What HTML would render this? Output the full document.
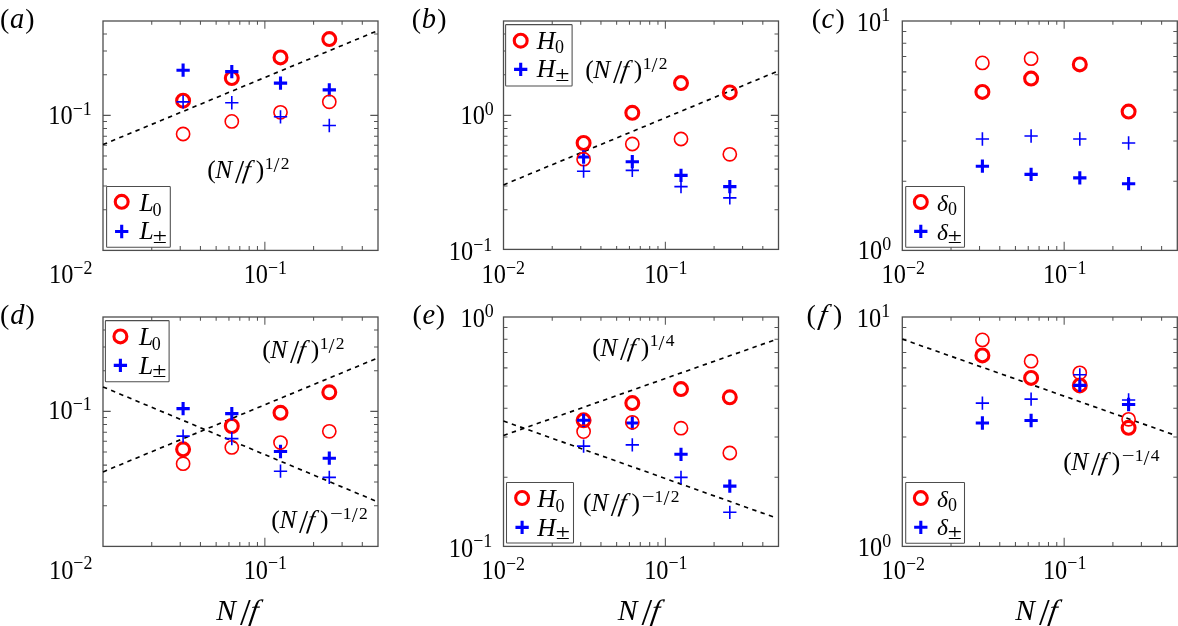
<!DOCTYPE html>
<html lang="en"><head><meta charset="utf-8"><title>Figure</title>
<style>html,body{margin:0;padding:0;background:#fff;overflow:hidden}svg{display:block}</style></head>
<body>
<svg width="1178" height="626" viewBox="0 0 1178 626" font-family="'Liberation Serif', 'DejaVu Serif', serif">
<rect width="1178" height="626" fill="#fff"/>
<path d="M151.73 21v3.8M151.73 250.4V246M180.23 21v3.8M180.23 250.4V246M200.45 21v3.8M200.45 250.4V246M216.14 21v3.8M216.14 250.4V246M228.95 21v3.8M228.95 250.4V246M239.79 21v3.8M239.79 250.4V246M249.18 21v3.8M249.18 250.4V246M257.46 21v3.8M257.46 250.4V246M264.86 21v7.8M264.86 250.4V241.8M313.59 21v3.8M313.59 250.4V246M342.09 21v3.8M342.09 250.4V246M362.31 21v3.8M362.31 250.4V246M103 209.75h4M378 209.75h-4M103 185.98h4M378 185.98h-4M103 169.11h4M378 169.11h-4M103 156.02h4M378 156.02h-4M103 145.33h4M378 145.33h-4M103 136.29h4M378 136.29h-4M103 128.46h4M378 128.46h-4M103 121.56h4M378 121.56h-4M103 115.38h7.7M378 115.38h-7.7M103 74.73h4M378 74.73h-4M103 50.95h4M378 50.95h-4M103 34.09h4M378 34.09h-4" stroke="#555" stroke-width="1.05" fill="none"/>
<rect x="103" y="21" width="275" height="229.4" fill="none" stroke="#4d4d4d" stroke-width="1.3"/>
<line x1="103" y1="144.6" x2="376" y2="31.39" stroke="#000" stroke-width="1.65" stroke-dasharray="4.4 4.4"/>
<circle cx="183.1" cy="100.7" r="6.45" fill="none" stroke="#ff0000" stroke-width="3.1"/>
<circle cx="231.8" cy="78.1" r="6.45" fill="none" stroke="#ff0000" stroke-width="3.1"/>
<circle cx="280.5" cy="57.4" r="6.45" fill="none" stroke="#ff0000" stroke-width="3.1"/>
<circle cx="329.3" cy="39.1" r="6.45" fill="none" stroke="#ff0000" stroke-width="3.1"/>
<path d="M176.45 70.2h13.3M183.1 63.55v13.3" fill="none" stroke="#0000ff" stroke-width="3.1"/>
<path d="M225.15 71.65h13.3M231.8 65v13.3" fill="none" stroke="#0000ff" stroke-width="3.1"/>
<path d="M273.85 83.1h13.3M280.5 76.45v13.3" fill="none" stroke="#0000ff" stroke-width="3.1"/>
<path d="M322.65 89.9h13.3M329.3 83.25v13.3" fill="none" stroke="#0000ff" stroke-width="3.1"/>
<circle cx="183.1" cy="134" r="6.6" fill="none" stroke="#ff0000" stroke-width="1.6"/>
<circle cx="231.8" cy="121.4" r="6.6" fill="none" stroke="#ff0000" stroke-width="1.6"/>
<circle cx="280.5" cy="112.3" r="6.6" fill="none" stroke="#ff0000" stroke-width="1.6"/>
<circle cx="329.3" cy="101.8" r="6.6" fill="none" stroke="#ff0000" stroke-width="1.6"/>
<path d="M176.45 101.9h13.3M183.1 95.25v13.3" fill="none" stroke="#0000ff" stroke-width="1.6"/>
<path d="M225.15 102.75h13.3M231.8 96.1v13.3" fill="none" stroke="#0000ff" stroke-width="1.6"/>
<path d="M273.85 116.8h13.3M280.5 110.15v13.3" fill="none" stroke="#0000ff" stroke-width="1.6"/>
<path d="M322.65 125.5h13.3M329.3 118.85v13.3" fill="none" stroke="#0000ff" stroke-width="1.6"/>
<rect x="106.6" y="186.5" width="63.7" height="60.7" rx="0.7" fill="#fff" stroke="#4d4d4d" stroke-width="1.05"/>
<circle cx="121.7" cy="201.8" r="6.45" fill="none" stroke="#ff0000" stroke-width="3.1"/>
<path d="M115.05 231.5h13.3M121.7 224.85v13.3" fill="none" stroke="#0000ff" stroke-width="3.1"/>
<g fill="#000"><text><tspan x="139.5" y="211.3" font-size="25.5" font-style="italic">L</tspan><tspan x="152.45" y="215.5" font-size="18">0</tspan></text></g>
<g fill="#000"><text><tspan x="139.5" y="239.3" font-size="25.5" font-style="italic">L</tspan></text><text transform="translate(152.83 242.9) scale(1.29 1)" font-size="20">±</text></g>
<g fill="#000"><text><tspan x="207.15" y="177.9" font-size="25.5">(</tspan><tspan x="215.35" y="177.9" font-size="25.5" font-style="italic">N</tspan><tspan x="234.92" y="182.6" font-size="33">/</tspan></text><text transform="translate(242.29 177.9) skewX(-9)" font-size="25.5" font-style="italic">f</text><text><tspan x="255.8" y="177.9" font-size="25.5">)</tspan><tspan x="264.63" y="168.7" font-size="17.5">1</tspan><tspan x="273.61" y="172.3" font-size="21.5">/</tspan><tspan x="280.87" y="168.7" font-size="17.5">2</tspan></text></g>
<text transform="translate(91.8 123.9) scale(0.92 1)" text-anchor="end" font-size="26.5">10<tspan dy="-9.4" font-size="19.5">−1</tspan></text>
<text transform="translate(92.4 283) scale(0.92 1)" text-anchor="end" font-size="26.5">10<tspan dy="-9.4" font-size="19.5">−2</tspan></text>
<text transform="translate(265.36 283) scale(0.92 1)" text-anchor="middle" font-size="26.5">10<tspan dy="-9.4" font-size="19.5">−1</tspan></text>
<g fill="#000"><text><tspan x="0.11" y="27.8" font-size="27.8">(</tspan><tspan x="10.09" y="27.8" font-size="28.5" font-style="italic">a</tspan><tspan x="25.23" y="27.8" font-size="27.8">)</tspan></text></g>
<path d="M552.23 21v3.8M552.23 249.4V246M580.73 21v3.8M580.73 249.4V246M600.95 21v3.8M600.95 249.4V246M616.64 21v3.8M616.64 249.4V246M629.45 21v3.8M629.45 249.4V246M640.29 21v3.8M640.29 249.4V246M649.68 21v3.8M649.68 249.4V246M657.96 21v3.8M657.96 249.4V246M665.36 21v7.8M665.36 249.4V241.8M714.09 21v3.8M714.09 249.4V246M742.59 21v3.8M742.59 249.4V246M762.81 21v3.8M762.81 249.4V246M503.5 209.75h4M778.5 209.75h-4M503.5 185.98h4M778.5 185.98h-4M503.5 169.11h4M778.5 169.11h-4M503.5 156.02h4M778.5 156.02h-4M503.5 145.33h4M778.5 145.33h-4M503.5 136.29h4M778.5 136.29h-4M503.5 128.46h4M778.5 128.46h-4M503.5 121.56h4M778.5 121.56h-4M503.5 115.38h7.7M778.5 115.38h-7.7M503.5 74.73h4M778.5 74.73h-4M503.5 50.95h4M778.5 50.95h-4M503.5 34.09h4M778.5 34.09h-4" stroke="#555" stroke-width="1.05" fill="none"/>
<rect x="503.5" y="21" width="275" height="228.4" fill="none" stroke="#4d4d4d" stroke-width="1.3"/>
<line x1="503.5" y1="184.9" x2="776.5" y2="71.69" stroke="#000" stroke-width="1.65" stroke-dasharray="4.4 4.4"/>
<circle cx="583.6" cy="143" r="6.45" fill="none" stroke="#ff0000" stroke-width="3.1"/>
<circle cx="632.3" cy="112.8" r="6.45" fill="none" stroke="#ff0000" stroke-width="3.1"/>
<circle cx="681" cy="83.1" r="6.45" fill="none" stroke="#ff0000" stroke-width="3.1"/>
<circle cx="729.8" cy="92.4" r="6.45" fill="none" stroke="#ff0000" stroke-width="3.1"/>
<path d="M576.95 157h13.3M583.6 150.35v13.3" fill="none" stroke="#0000ff" stroke-width="3.1"/>
<path d="M625.65 161.7h13.3M632.3 155.05v13.3" fill="none" stroke="#0000ff" stroke-width="3.1"/>
<path d="M674.35 175.4h13.3M681 168.75v13.3" fill="none" stroke="#0000ff" stroke-width="3.1"/>
<path d="M723.15 186.6h13.3M729.8 179.95v13.3" fill="none" stroke="#0000ff" stroke-width="3.1"/>
<circle cx="583.6" cy="159.2" r="6.6" fill="none" stroke="#ff0000" stroke-width="1.6"/>
<circle cx="632.3" cy="144" r="6.6" fill="none" stroke="#ff0000" stroke-width="1.6"/>
<circle cx="681" cy="139" r="6.6" fill="none" stroke="#ff0000" stroke-width="1.6"/>
<circle cx="729.8" cy="154.3" r="6.6" fill="none" stroke="#ff0000" stroke-width="1.6"/>
<path d="M576.95 171.2h13.3M583.6 164.55v13.3" fill="none" stroke="#0000ff" stroke-width="1.6"/>
<path d="M625.65 170.4h13.3M632.3 163.75v13.3" fill="none" stroke="#0000ff" stroke-width="1.6"/>
<path d="M674.35 186.6h13.3M681 179.95v13.3" fill="none" stroke="#0000ff" stroke-width="1.6"/>
<path d="M723.15 197.9h13.3M729.8 191.25v13.3" fill="none" stroke="#0000ff" stroke-width="1.6"/>
<rect x="505.6" y="24.6" width="66.5" height="61.4" rx="0.7" fill="#fff" stroke="#4d4d4d" stroke-width="1.05"/>
<circle cx="520.7" cy="40.7" r="6.45" fill="none" stroke="#ff0000" stroke-width="3.1"/>
<path d="M514.05 69.4h13.3M520.7 62.75v13.3" fill="none" stroke="#0000ff" stroke-width="3.1"/>
<g fill="#000"><text><tspan x="536.87" y="49.2" font-size="25.5" font-style="italic">H</tspan><tspan x="555.05" y="53.4" font-size="18">0</tspan></text></g>
<g fill="#000"><text><tspan x="536.87" y="77.4" font-size="25.5" font-style="italic">H</tspan></text><text transform="translate(555.13 81) scale(1.29 1)" font-size="20">±</text></g>
<g fill="#000"><text><tspan x="585.15" y="77.9" font-size="25.5">(</tspan><tspan x="593.35" y="77.9" font-size="25.5" font-style="italic">N</tspan><tspan x="612.92" y="82.6" font-size="33">/</tspan></text><text transform="translate(620.29 77.9) skewX(-9)" font-size="25.5" font-style="italic">f</text><text><tspan x="633.8" y="77.9" font-size="25.5">)</tspan><tspan x="642.63" y="68.7" font-size="17.5">1</tspan><tspan x="651.61" y="72.3" font-size="21.5">/</tspan><tspan x="658.87" y="68.7" font-size="17.5">2</tspan></text></g>
<text transform="translate(493.8 123.9) scale(0.92 1)" text-anchor="end" font-size="26.5">10<tspan dy="-9.4" font-size="19.5">0</tspan></text>
<text transform="translate(492.3 259.9) scale(0.92 1)" text-anchor="end" font-size="26.5">10<tspan dy="-9.4" font-size="19.5">−1</tspan></text>
<text transform="translate(503.3 283) scale(0.92 1)" text-anchor="middle" font-size="26.5">10<tspan dy="-9.4" font-size="19.5">−2</tspan></text>
<text transform="translate(665.86 283) scale(0.92 1)" text-anchor="middle" font-size="26.5">10<tspan dy="-9.4" font-size="19.5">−1</tspan></text>
<g fill="#000"><text><tspan x="411.71" y="27.8" font-size="27.8">(</tspan><tspan x="421.78" y="27.8" font-size="28.5" font-style="italic">b</tspan><tspan x="437.23" y="27.8" font-size="27.8">)</tspan></text></g>
<path d="M951.03 21v3.8M951.03 250.4V246M979.53 21v3.8M979.53 250.4V246M999.75 21v3.8M999.75 250.4V246M1015.44 21v3.8M1015.44 250.4V246M1028.25 21v3.8M1028.25 250.4V246M1039.09 21v3.8M1039.09 250.4V246M1048.48 21v3.8M1048.48 250.4V246M1056.76 21v3.8M1056.76 250.4V246M1064.16 21v7.8M1064.16 250.4V241.8M1112.89 21v3.8M1112.89 250.4V246M1141.39 21v3.8M1141.39 250.4V246M1161.61 21v3.8M1161.61 250.4V246M902.3 181.34h4M1177.3 181.34h-4M902.3 140.95h4M1177.3 140.95h-4M902.3 112.29h4M1177.3 112.29h-4M902.3 90.06h4M1177.3 90.06h-4M902.3 71.89h4M1177.3 71.89h-4M902.3 56.53h4M1177.3 56.53h-4M902.3 43.23h4M1177.3 43.23h-4M902.3 31.5h4M1177.3 31.5h-4" stroke="#555" stroke-width="1.05" fill="none"/>
<rect x="902.3" y="21" width="275" height="229.4" fill="none" stroke="#4d4d4d" stroke-width="1.3"/>
<circle cx="982.4" cy="91.9" r="6.45" fill="none" stroke="#ff0000" stroke-width="3.1"/>
<circle cx="1031.1" cy="78.6" r="6.45" fill="none" stroke="#ff0000" stroke-width="3.1"/>
<circle cx="1079.8" cy="64.4" r="6.45" fill="none" stroke="#ff0000" stroke-width="3.1"/>
<circle cx="1128.6" cy="111.6" r="6.45" fill="none" stroke="#ff0000" stroke-width="3.1"/>
<path d="M975.75 166.2h13.3M982.4 159.55v13.3" fill="none" stroke="#0000ff" stroke-width="3.1"/>
<path d="M1024.45 174.4h13.3M1031.1 167.75v13.3" fill="none" stroke="#0000ff" stroke-width="3.1"/>
<path d="M1073.15 177.9h13.3M1079.8 171.25v13.3" fill="none" stroke="#0000ff" stroke-width="3.1"/>
<path d="M1121.95 183.7h13.3M1128.6 177.05v13.3" fill="none" stroke="#0000ff" stroke-width="3.1"/>
<circle cx="982.4" cy="62.9" r="6.6" fill="none" stroke="#ff0000" stroke-width="1.6"/>
<circle cx="1031.1" cy="58.7" r="6.6" fill="none" stroke="#ff0000" stroke-width="1.6"/>
<path d="M975.75 139h13.3M982.4 132.35v13.3" fill="none" stroke="#0000ff" stroke-width="1.6"/>
<path d="M1024.45 136h13.3M1031.1 129.35v13.3" fill="none" stroke="#0000ff" stroke-width="1.6"/>
<path d="M1073.15 139h13.3M1079.8 132.35v13.3" fill="none" stroke="#0000ff" stroke-width="1.6"/>
<path d="M1121.95 143h13.3M1128.6 136.35v13.3" fill="none" stroke="#0000ff" stroke-width="1.6"/>
<rect x="905.7" y="186.4" width="58.8" height="60.9" rx="0.7" fill="#fff" stroke="#4d4d4d" stroke-width="1.05"/>
<circle cx="920.8" cy="202" r="6.45" fill="none" stroke="#ff0000" stroke-width="3.1"/>
<path d="M914.15 231.4h13.3M920.8 224.75v13.3" fill="none" stroke="#0000ff" stroke-width="3.1"/>
<g fill="#000"><text><tspan x="937.09" y="211.2" font-size="23.5" font-style="italic">δ</tspan><tspan x="947.9" y="215.4" font-size="18">0</tspan></text></g>
<g fill="#000"><text><tspan x="937.09" y="239.5" font-size="23.5" font-style="italic">δ</tspan></text><text transform="translate(947.68 243.1) scale(1.29 1)" font-size="20">±</text></g>
<text transform="translate(890.1 30.6) scale(0.92 1)" text-anchor="end" font-size="26.5">10<tspan dy="-9.4" font-size="19.5">1</tspan></text>
<text transform="translate(891.2 259.3) scale(0.92 1)" text-anchor="end" font-size="26.5">10<tspan dy="-9.4" font-size="19.5">0</tspan></text>
<text transform="translate(903.3 283) scale(0.92 1)" text-anchor="middle" font-size="26.5">10<tspan dy="-9.4" font-size="19.5">−2</tspan></text>
<text transform="translate(1064.66 283) scale(0.92 1)" text-anchor="middle" font-size="26.5">10<tspan dy="-9.4" font-size="19.5">−1</tspan></text>
<g fill="#000"><text><tspan x="811.71" y="27.8" font-size="27.8">(</tspan><tspan x="821.49" y="27.8" font-size="28.5" font-style="italic">c</tspan><tspan x="835.53" y="27.8" font-size="27.8">)</tspan></text></g>
<path d="M151.73 317v3.8M151.73 546.4V542M180.23 317v3.8M180.23 546.4V542M200.45 317v3.8M200.45 546.4V542M216.14 317v3.8M216.14 546.4V542M228.95 317v3.8M228.95 546.4V542M239.79 317v3.8M239.79 546.4V542M249.18 317v3.8M249.18 546.4V542M257.46 317v3.8M257.46 546.4V542M264.86 317v7.8M264.86 546.4V537.8M313.59 317v3.8M313.59 546.4V542M342.09 317v3.8M342.09 546.4V542M362.31 317v3.8M362.31 546.4V542M103 505.75h4M378 505.75h-4M103 481.98h4M378 481.98h-4M103 465.11h4M378 465.11h-4M103 452.02h4M378 452.02h-4M103 441.33h4M378 441.33h-4M103 432.29h4M378 432.29h-4M103 424.46h4M378 424.46h-4M103 417.56h4M378 417.56h-4M103 411.38h7.7M378 411.38h-7.7M103 370.73h4M378 370.73h-4M103 346.95h4M378 346.95h-4M103 330.09h4M378 330.09h-4" stroke="#555" stroke-width="1.05" fill="none"/>
<rect x="103" y="317" width="275" height="229.4" fill="none" stroke="#4d4d4d" stroke-width="1.3"/>
<line x1="103" y1="471.9" x2="376" y2="358.69" stroke="#000" stroke-width="1.65" stroke-dasharray="4.4 4.4"/>
<line x1="103" y1="386.9" x2="376" y2="501.15" stroke="#000" stroke-width="1.65" stroke-dasharray="4.4 4.4"/>
<circle cx="183.1" cy="449.3" r="6.45" fill="none" stroke="#ff0000" stroke-width="3.1"/>
<circle cx="231.8" cy="426" r="6.45" fill="none" stroke="#ff0000" stroke-width="3.1"/>
<circle cx="280.5" cy="412.8" r="6.45" fill="none" stroke="#ff0000" stroke-width="3.1"/>
<circle cx="329.3" cy="392.3" r="6.45" fill="none" stroke="#ff0000" stroke-width="3.1"/>
<path d="M176.45 408.6h13.3M183.1 401.95v13.3" fill="none" stroke="#0000ff" stroke-width="3.1"/>
<path d="M225.15 413.6h13.3M231.8 406.95v13.3" fill="none" stroke="#0000ff" stroke-width="3.1"/>
<path d="M273.85 451.5h13.3M280.5 444.85v13.3" fill="none" stroke="#0000ff" stroke-width="3.1"/>
<path d="M322.65 458.2h13.3M329.3 451.55v13.3" fill="none" stroke="#0000ff" stroke-width="3.1"/>
<circle cx="183.1" cy="463.7" r="6.6" fill="none" stroke="#ff0000" stroke-width="1.6"/>
<circle cx="231.8" cy="447.4" r="6.6" fill="none" stroke="#ff0000" stroke-width="1.6"/>
<circle cx="280.5" cy="442.6" r="6.6" fill="none" stroke="#ff0000" stroke-width="1.6"/>
<circle cx="329.3" cy="431.3" r="6.6" fill="none" stroke="#ff0000" stroke-width="1.6"/>
<path d="M176.45 436.1h13.3M183.1 429.45v13.3" fill="none" stroke="#0000ff" stroke-width="1.6"/>
<path d="M225.15 438.6h13.3M231.8 431.95v13.3" fill="none" stroke="#0000ff" stroke-width="1.6"/>
<path d="M273.85 471.2h13.3M280.5 464.55v13.3" fill="none" stroke="#0000ff" stroke-width="1.6"/>
<path d="M322.65 477.4h13.3M329.3 470.75v13.3" fill="none" stroke="#0000ff" stroke-width="1.6"/>
<rect x="105.4" y="320.6" width="63.7" height="61.1" rx="0.7" fill="#fff" stroke="#4d4d4d" stroke-width="1.05"/>
<circle cx="120.4" cy="336.4" r="6.45" fill="none" stroke="#ff0000" stroke-width="3.1"/>
<path d="M113.75 365.4h13.3M120.4 358.75v13.3" fill="none" stroke="#0000ff" stroke-width="3.1"/>
<g fill="#000"><text><tspan x="138.9" y="345.4" font-size="25.5" font-style="italic">L</tspan><tspan x="151.85" y="349.6" font-size="18">0</tspan></text></g>
<g fill="#000"><text><tspan x="138.9" y="373.5" font-size="25.5" font-style="italic">L</tspan></text><text transform="translate(152.23 377.1) scale(1.29 1)" font-size="20">±</text></g>
<g fill="#000"><text><tspan x="262.15" y="358.4" font-size="25.5">(</tspan><tspan x="270.35" y="358.4" font-size="25.5" font-style="italic">N</tspan><tspan x="289.92" y="363.1" font-size="33">/</tspan></text><text transform="translate(297.29 358.4) skewX(-9)" font-size="25.5" font-style="italic">f</text><text><tspan x="310.8" y="358.4" font-size="25.5">)</tspan><tspan x="319.63" y="349.2" font-size="17.5">1</tspan><tspan x="328.61" y="352.8" font-size="21.5">/</tspan><tspan x="335.87" y="349.2" font-size="17.5">2</tspan></text></g>
<g fill="#000"><text><tspan x="271.25" y="527.8" font-size="25.5">(</tspan><tspan x="279.45" y="527.8" font-size="25.5" font-style="italic">N</tspan><tspan x="299.02" y="532.5" font-size="33">/</tspan></text><text transform="translate(306.39 527.8) skewX(-9)" font-size="25.5" font-style="italic">f</text><text><tspan x="319.9" y="527.8" font-size="25.5">)</tspan></text><text transform="translate(329.97 518.6) scale(1.3 1)" font-size="17.5">−</text><text><tspan x="342.73" y="518.6" font-size="17.5">1</tspan><tspan x="351.71" y="522.2" font-size="21.5">/</tspan><tspan x="358.97" y="518.6" font-size="17.5">2</tspan></text></g>
<text transform="translate(91.8 419) scale(0.92 1)" text-anchor="end" font-size="26.5">10<tspan dy="-9.4" font-size="19.5">−1</tspan></text>
<text transform="translate(92.4 578.8) scale(0.92 1)" text-anchor="end" font-size="26.5">10<tspan dy="-9.4" font-size="19.5">−2</tspan></text>
<text transform="translate(265.36 578.8) scale(0.92 1)" text-anchor="middle" font-size="26.5">10<tspan dy="-9.4" font-size="19.5">−1</tspan></text>
<g fill="#000"><text><tspan x="0.11" y="323.8" font-size="27.8">(</tspan><tspan x="10.21" y="323.8" font-size="28.5" font-style="italic">d</tspan><tspan x="25.43" y="323.8" font-size="27.8">)</tspan></text></g>
<g fill="#000"><text><tspan x="216.19" y="619.7" font-size="29.5" font-style="italic">N</tspan><tspan x="239.95" y="625.2" font-size="38.5">/</tspan></text><text transform="translate(248.67 619.7) skewX(-9)" font-size="29.5" font-style="italic">f</text></g>
<path d="M552.23 317v3.8M552.23 546.4V542M580.73 317v3.8M580.73 546.4V542M600.95 317v3.8M600.95 546.4V542M616.64 317v3.8M616.64 546.4V542M629.45 317v3.8M629.45 546.4V542M640.29 317v3.8M640.29 546.4V542M649.68 317v3.8M649.68 546.4V542M657.96 317v3.8M657.96 546.4V542M665.36 317v7.8M665.36 546.4V537.8M714.09 317v3.8M714.09 546.4V542M742.59 317v3.8M742.59 546.4V542M762.81 317v3.8M762.81 546.4V542M503.5 477.34h4M778.5 477.34h-4M503.5 436.95h4M778.5 436.95h-4M503.5 408.29h4M778.5 408.29h-4M503.5 386.06h4M778.5 386.06h-4M503.5 367.89h4M778.5 367.89h-4M503.5 352.53h4M778.5 352.53h-4M503.5 339.23h4M778.5 339.23h-4M503.5 327.5h4M778.5 327.5h-4" stroke="#555" stroke-width="1.05" fill="none"/>
<rect x="503.5" y="317" width="275" height="229.4" fill="none" stroke="#4d4d4d" stroke-width="1.3"/>
<line x1="503.5" y1="435.5" x2="776.5" y2="339.32" stroke="#000" stroke-width="1.65" stroke-dasharray="4.4 4.4"/>
<line x1="503.5" y1="421" x2="776.5" y2="518.02" stroke="#000" stroke-width="1.65" stroke-dasharray="4.4 4.4"/>
<circle cx="583.6" cy="420.3" r="6.45" fill="none" stroke="#ff0000" stroke-width="3.1"/>
<circle cx="632.3" cy="403.1" r="6.45" fill="none" stroke="#ff0000" stroke-width="3.1"/>
<circle cx="681" cy="389.1" r="6.45" fill="none" stroke="#ff0000" stroke-width="3.1"/>
<circle cx="729.8" cy="397.3" r="6.45" fill="none" stroke="#ff0000" stroke-width="3.1"/>
<path d="M576.95 420.3h13.3M583.6 413.65v13.3" fill="none" stroke="#0000ff" stroke-width="3.1"/>
<path d="M625.65 423h13.3M632.3 416.35v13.3" fill="none" stroke="#0000ff" stroke-width="3.1"/>
<path d="M674.35 454.3h13.3M681 447.65v13.3" fill="none" stroke="#0000ff" stroke-width="3.1"/>
<path d="M723.15 486.1h13.3M729.8 479.45v13.3" fill="none" stroke="#0000ff" stroke-width="3.1"/>
<circle cx="583.6" cy="431.6" r="6.6" fill="none" stroke="#ff0000" stroke-width="1.6"/>
<circle cx="632.3" cy="422.3" r="6.6" fill="none" stroke="#ff0000" stroke-width="1.6"/>
<circle cx="681" cy="428.2" r="6.6" fill="none" stroke="#ff0000" stroke-width="1.6"/>
<circle cx="729.8" cy="453" r="6.6" fill="none" stroke="#ff0000" stroke-width="1.6"/>
<path d="M576.95 446.1h13.3M583.6 439.45v13.3" fill="none" stroke="#0000ff" stroke-width="1.6"/>
<path d="M625.65 444.9h13.3M632.3 438.25v13.3" fill="none" stroke="#0000ff" stroke-width="1.6"/>
<path d="M674.35 477.4h13.3M681 470.75v13.3" fill="none" stroke="#0000ff" stroke-width="1.6"/>
<path d="M723.15 512.3h13.3M729.8 505.65v13.3" fill="none" stroke="#0000ff" stroke-width="1.6"/>
<rect x="506.5" y="482.5" width="67" height="60.5" rx="0.7" fill="#fff" stroke="#4d4d4d" stroke-width="1.05"/>
<circle cx="522.1" cy="498" r="6.45" fill="none" stroke="#ff0000" stroke-width="3.1"/>
<path d="M515.45 527.4h13.3M522.1 520.75v13.3" fill="none" stroke="#0000ff" stroke-width="3.1"/>
<g fill="#000"><text><tspan x="537.37" y="507.4" font-size="25.5" font-style="italic">H</tspan><tspan x="555.55" y="511.6" font-size="18">0</tspan></text></g>
<g fill="#000"><text><tspan x="537.37" y="535.5" font-size="25.5" font-style="italic">H</tspan></text><text transform="translate(555.63 539.1) scale(1.29 1)" font-size="20">±</text></g>
<g fill="#000"><text><tspan x="592.15" y="355.6" font-size="25.5">(</tspan><tspan x="600.35" y="355.6" font-size="25.5" font-style="italic">N</tspan><tspan x="619.92" y="360.3" font-size="33">/</tspan></text><text transform="translate(627.29 355.6) skewX(-9)" font-size="25.5" font-style="italic">f</text><text><tspan x="640.8" y="355.6" font-size="25.5">)</tspan><tspan x="649.63" y="346.4" font-size="17.5">1</tspan><tspan x="658.61" y="350" font-size="21.5">/</tspan><tspan x="665.74" y="346.4" font-size="17.5">4</tspan></text></g>
<g fill="#000"><text><tspan x="582.95" y="510.8" font-size="25.5">(</tspan><tspan x="591.15" y="510.8" font-size="25.5" font-style="italic">N</tspan><tspan x="610.72" y="515.5" font-size="33">/</tspan></text><text transform="translate(618.09 510.8) skewX(-9)" font-size="25.5" font-style="italic">f</text><text><tspan x="631.6" y="510.8" font-size="25.5">)</tspan></text><text transform="translate(641.67 501.6) scale(1.3 1)" font-size="17.5">−</text><text><tspan x="654.43" y="501.6" font-size="17.5">1</tspan><tspan x="663.41" y="505.2" font-size="21.5">/</tspan><tspan x="670.67" y="501.6" font-size="17.5">2</tspan></text></g>
<text transform="translate(493.8 326.6) scale(0.92 1)" text-anchor="end" font-size="26.5">10<tspan dy="-9.4" font-size="19.5">0</tspan></text>
<text transform="translate(492.3 556.8) scale(0.92 1)" text-anchor="end" font-size="26.5">10<tspan dy="-9.4" font-size="19.5">−1</tspan></text>
<text transform="translate(503.3 579) scale(0.92 1)" text-anchor="middle" font-size="26.5">10<tspan dy="-9.4" font-size="19.5">−2</tspan></text>
<text transform="translate(665.86 578.8) scale(0.92 1)" text-anchor="middle" font-size="26.5">10<tspan dy="-9.4" font-size="19.5">−1</tspan></text>
<g fill="#000"><text><tspan x="412.41" y="323.8" font-size="27.8">(</tspan><tspan x="422.46" y="323.8" font-size="28.5" font-style="italic">e</tspan><tspan x="435.73" y="323.8" font-size="27.8">)</tspan></text></g>
<g fill="#000"><text><tspan x="617.69" y="619.7" font-size="29.5" font-style="italic">N</tspan><tspan x="641.45" y="625.2" font-size="38.5">/</tspan></text><text transform="translate(650.17 619.7) skewX(-9)" font-size="29.5" font-style="italic">f</text></g>
<path d="M951.03 317v3.8M951.03 546.4V542M979.53 317v3.8M979.53 546.4V542M999.75 317v3.8M999.75 546.4V542M1015.44 317v3.8M1015.44 546.4V542M1028.25 317v3.8M1028.25 546.4V542M1039.09 317v3.8M1039.09 546.4V542M1048.48 317v3.8M1048.48 546.4V542M1056.76 317v3.8M1056.76 546.4V542M1064.16 317v7.8M1064.16 546.4V537.8M1112.89 317v3.8M1112.89 546.4V542M1141.39 317v3.8M1141.39 546.4V542M1161.61 317v3.8M1161.61 546.4V542M902.3 477.34h4M1177.3 477.34h-4M902.3 436.95h4M1177.3 436.95h-4M902.3 408.29h4M1177.3 408.29h-4M902.3 386.06h4M1177.3 386.06h-4M902.3 367.89h4M1177.3 367.89h-4M902.3 352.53h4M1177.3 352.53h-4M902.3 339.23h4M1177.3 339.23h-4M902.3 327.5h4M1177.3 327.5h-4" stroke="#555" stroke-width="1.05" fill="none"/>
<rect x="902.3" y="317" width="275" height="229.4" fill="none" stroke="#4d4d4d" stroke-width="1.3"/>
<line x1="902.3" y1="339.1" x2="1175.3" y2="435.28" stroke="#000" stroke-width="1.65" stroke-dasharray="4.4 4.4"/>
<circle cx="982.4" cy="355.4" r="6.45" fill="none" stroke="#ff0000" stroke-width="3.1"/>
<circle cx="1031.1" cy="377.9" r="6.45" fill="none" stroke="#ff0000" stroke-width="3.1"/>
<circle cx="1079.8" cy="385.4" r="6.45" fill="none" stroke="#ff0000" stroke-width="3.1"/>
<circle cx="1128.6" cy="427.8" r="6.45" fill="none" stroke="#ff0000" stroke-width="3.1"/>
<path d="M975.75 423h13.3M982.4 416.35v13.3" fill="none" stroke="#0000ff" stroke-width="3.1"/>
<path d="M1024.45 420.5h13.3M1031.1 413.85v13.3" fill="none" stroke="#0000ff" stroke-width="3.1"/>
<path d="M1073.15 385.4h13.3M1079.8 378.75v13.3" fill="none" stroke="#0000ff" stroke-width="3.1"/>
<path d="M1121.95 404.5h13.3M1128.6 397.85v13.3" fill="none" stroke="#0000ff" stroke-width="3.1"/>
<circle cx="982.4" cy="339.9" r="6.6" fill="none" stroke="#ff0000" stroke-width="1.6"/>
<circle cx="1031.1" cy="361.2" r="6.6" fill="none" stroke="#ff0000" stroke-width="1.6"/>
<circle cx="1079.8" cy="372.8" r="6.6" fill="none" stroke="#ff0000" stroke-width="1.6"/>
<circle cx="1128.6" cy="419.3" r="6.6" fill="none" stroke="#ff0000" stroke-width="1.6"/>
<path d="M975.75 403.1h13.3M982.4 396.45v13.3" fill="none" stroke="#0000ff" stroke-width="1.6"/>
<path d="M1024.45 399.1h13.3M1031.1 392.45v13.3" fill="none" stroke="#0000ff" stroke-width="1.6"/>
<path d="M1073.15 374.8h13.3M1079.8 368.15v13.3" fill="none" stroke="#0000ff" stroke-width="1.6"/>
<path d="M1121.95 400h13.3M1128.6 393.35v13.3" fill="none" stroke="#0000ff" stroke-width="1.6"/>
<rect x="905.7" y="482.4" width="58.8" height="60.8" rx="0.7" fill="#fff" stroke="#4d4d4d" stroke-width="1.05"/>
<circle cx="920.8" cy="498.1" r="6.45" fill="none" stroke="#ff0000" stroke-width="3.1"/>
<path d="M914.15 527.3h13.3M920.8 520.65v13.3" fill="none" stroke="#0000ff" stroke-width="3.1"/>
<g fill="#000"><text><tspan x="937.09" y="507.1" font-size="23.5" font-style="italic">δ</tspan><tspan x="947.9" y="511.3" font-size="18">0</tspan></text></g>
<g fill="#000"><text><tspan x="937.09" y="535.4" font-size="23.5" font-style="italic">δ</tspan></text><text transform="translate(947.68 539) scale(1.29 1)" font-size="20">±</text></g>
<g fill="#000"><text><tspan x="1063.15" y="470.3" font-size="25.5">(</tspan><tspan x="1071.35" y="470.3" font-size="25.5" font-style="italic">N</tspan><tspan x="1090.92" y="475" font-size="33">/</tspan></text><text transform="translate(1098.29 470.3) skewX(-9)" font-size="25.5" font-style="italic">f</text><text><tspan x="1111.8" y="470.3" font-size="25.5">)</tspan></text><text transform="translate(1121.87 461.1) scale(1.3 1)" font-size="17.5">−</text><text><tspan x="1134.63" y="461.1" font-size="17.5">1</tspan><tspan x="1143.61" y="464.7" font-size="21.5">/</tspan><tspan x="1150.74" y="461.1" font-size="17.5">4</tspan></text></g>
<text transform="translate(890.1 326.6) scale(0.92 1)" text-anchor="end" font-size="26.5">10<tspan dy="-9.4" font-size="19.5">1</tspan></text>
<text transform="translate(891.2 555.9) scale(0.92 1)" text-anchor="end" font-size="26.5">10<tspan dy="-9.4" font-size="19.5">0</tspan></text>
<text transform="translate(903.3 579) scale(0.92 1)" text-anchor="middle" font-size="26.5">10<tspan dy="-9.4" font-size="19.5">−2</tspan></text>
<text transform="translate(1064.66 578.8) scale(0.92 1)" text-anchor="middle" font-size="26.5">10<tspan dy="-9.4" font-size="19.5">−1</tspan></text>
<g fill="#000"><text><tspan x="806.51" y="323.8" font-size="27.8">(</tspan></text><text transform="translate(817.81 323.8) skewX(-9)" font-size="28.5" font-style="italic">f</text><text><tspan x="832.93" y="323.8" font-size="27.8">)</tspan></text></g>
<g fill="#000"><text><tspan x="1015.19" y="619.7" font-size="29.5" font-style="italic">N</tspan><tspan x="1038.95" y="625.2" font-size="38.5">/</tspan></text><text transform="translate(1047.67 619.7) skewX(-9)" font-size="29.5" font-style="italic">f</text></g>
</svg>
</body></html>
